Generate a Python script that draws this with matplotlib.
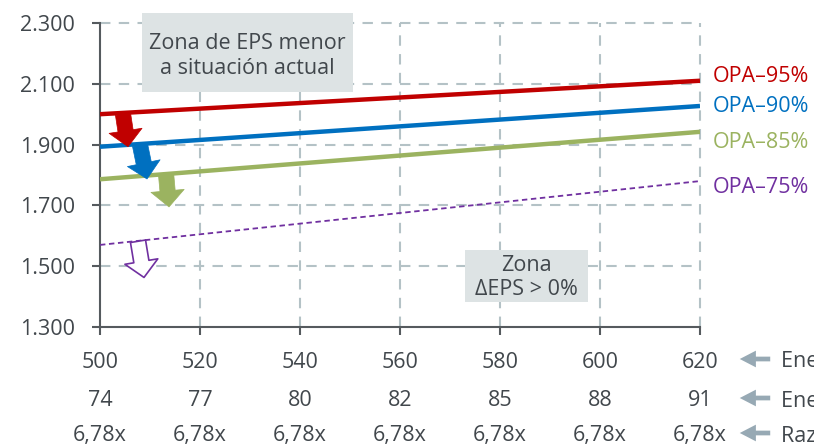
import matplotlib
matplotlib.use("Agg")
import matplotlib.pyplot as plt
from matplotlib.patches import Rectangle, FancyArrowPatch

plt.rcParams['font.family'] = ['Open Sans', 'DejaVu Sans']

# ---- data ----
energia = [500, 520, 540, 560, 580, 600, 620]
energia2 = ["74", "77", "80", "82", "85", "88", "91"]
razon = ["6,78x"] * 7
row_labels = ["Energía vendida (GWh)", "Energía firme (MW)", "Razón P/E"]

series_names = ["OPA–95%", "OPA–90%", "OPA–85%", "OPA–75%"]
series_x = [500, 620]
opa95 = [2000, 2110]
opa90 = [1893, 2027]
opa85 = [1786, 1942]
opa75 = [1570, 1780]
series_vals = [opa95, opa90, opa85, opa75]
colors = ["#c00000", "#0070c0", "#9bb360", "#7030a0"]

yticks = [1300, 1500, 1700, 1900, 2100, 2300]
ytick_labels = ["1.300", "1.500", "1.700", "1.900", "2.100", "2.300"]

# arrows: (tail x, tail y, tip x, tip y)
arrows = [(504.6, 2000, 505.6, 1893),
          (508.0, 1899, 509.4, 1787),
          (513.2, 1805, 513.8, 1695),
          (507.6, 1582, 508.8, 1463)]

text_col = "#41474c"
grid_col = "#b4c2c6"
spine_col = "#555a5e"
FS = 15.5

fig = plt.figure(figsize=(8.14, 4.46), dpi=100)
ax = fig.add_axes([100/814, 1-327/446, 600/814, 304/446])
ax.set_xlim(500, 620)
ax.set_ylim(1300, 2300)

# grid
for xv in energia[1:]:
    ax.plot([xv, xv], [1300, 2300], color=grid_col, lw=1.5, ls=(0, (5, 4)), zorder=1, clip_on=False)
for yv in yticks[1:]:
    ax.plot([500, 620], [yv, yv], color=grid_col, lw=1.5, ls=(0, (5, 4)), zorder=1, clip_on=False)

for s in ["top", "right"]:
    ax.spines[s].set_visible(False)
for s in ["left", "bottom"]:
    ax.spines[s].set_color(spine_col)
    ax.spines[s].set_linewidth(1.5)

ax.set_yticks(yticks)
ax.set_yticklabels(ytick_labels)
ax.set_xticks(energia)
ax.set_xticklabels([])
ax.tick_params(axis='y', length=6, width=1.5, color=spine_col, labelsize=FS, labelcolor=text_col, pad=12)
ax.tick_params(axis='x', length=5.5, width=1.5, color=spine_col, direction='out')

# lines
for name, vals, c in zip(series_names, series_vals, colors):
    if name == "OPA–75%":
        ax.plot(series_x, vals, color=c, lw=1.3, ls=(0, (3, 2)), zorder=3)
    else:
        ax.plot(series_x, vals, color=c, lw=3.2, zorder=3, solid_capstyle='butt')

# right labels
label_y = [2123, 2024, 1907, 1759]
for name, ly, c in zip(series_names, label_y, colors):
    ax.text(622.6, ly, name, color=c, fontsize=FS, va='center', ha='left', clip_on=False)

# arrows
for (tx, ty, hx, hy), c in zip(arrows, colors):
    fc = "white" if c == colors[3] else c
    ax.annotate("", xy=(hx, hy), xytext=(tx, ty),
                arrowprops=dict(arrowstyle="simple,head_length=0.58,head_width=1.2,tail_width=0.55",
                                fc=fc, ec=c, lw=1.2 if fc == "white" else 0.5,
                                shrinkA=0, shrinkB=0, mutation_scale=20),
                zorder=4)

# text boxes
ax.add_patch(Rectangle((508.4, 2073), 42.2, 260, fc="#dde3e4", ec="none", zorder=5, clip_on=False))
ax.text(529.5, 2192, "Zona de EPS menor\na situación actual", ha='center', va='center',
        fontsize=FS, color=text_col, linespacing=1.25, zorder=6)
ax.add_patch(Rectangle((573.0, 1382), 24.6, 171, fc="#dde3e4", ec="none", zorder=5))
ax.text(585.3, 1464, "Zona\nΔEPS > 0%", ha='center', va='center',
        fontsize=FS, color=text_col, linespacing=1.2, zorder=6)

# bottom rows
trans = ax.get_xaxis_transform()
rows = [[str(v) for v in energia], energia2, razon]
row_pix = [362, 401, 436]
row_y = [(327 - p) / 304 for p in row_pix]
for vals, ry in zip(rows, row_y):
    for xv, lab in zip(energia, vals):
        ax.text(xv, ry, lab, transform=trans, ha='center', va='center', fontsize=FS,
                color=text_col, clip_on=False)

# row arrows and labels (figure coords)
for p, lab in zip(row_pix, row_labels):
    yf = 1 - p / 446
    ya = 1 - (p - 3) / 446
    fig.patches.append(FancyArrowPatch(
        (773/814, ya), (737/814, ya), transform=fig.transFigure,
        arrowstyle="simple,head_length=0.58,head_width=0.6,tail_width=0.17",
        mutation_scale=20, fc="#97a9b4", ec="none"))
    fig.text(781/814, yf, lab, ha='left', va='center', fontsize=FS, color=text_col)

fig.savefig("out.png", dpi=100)
